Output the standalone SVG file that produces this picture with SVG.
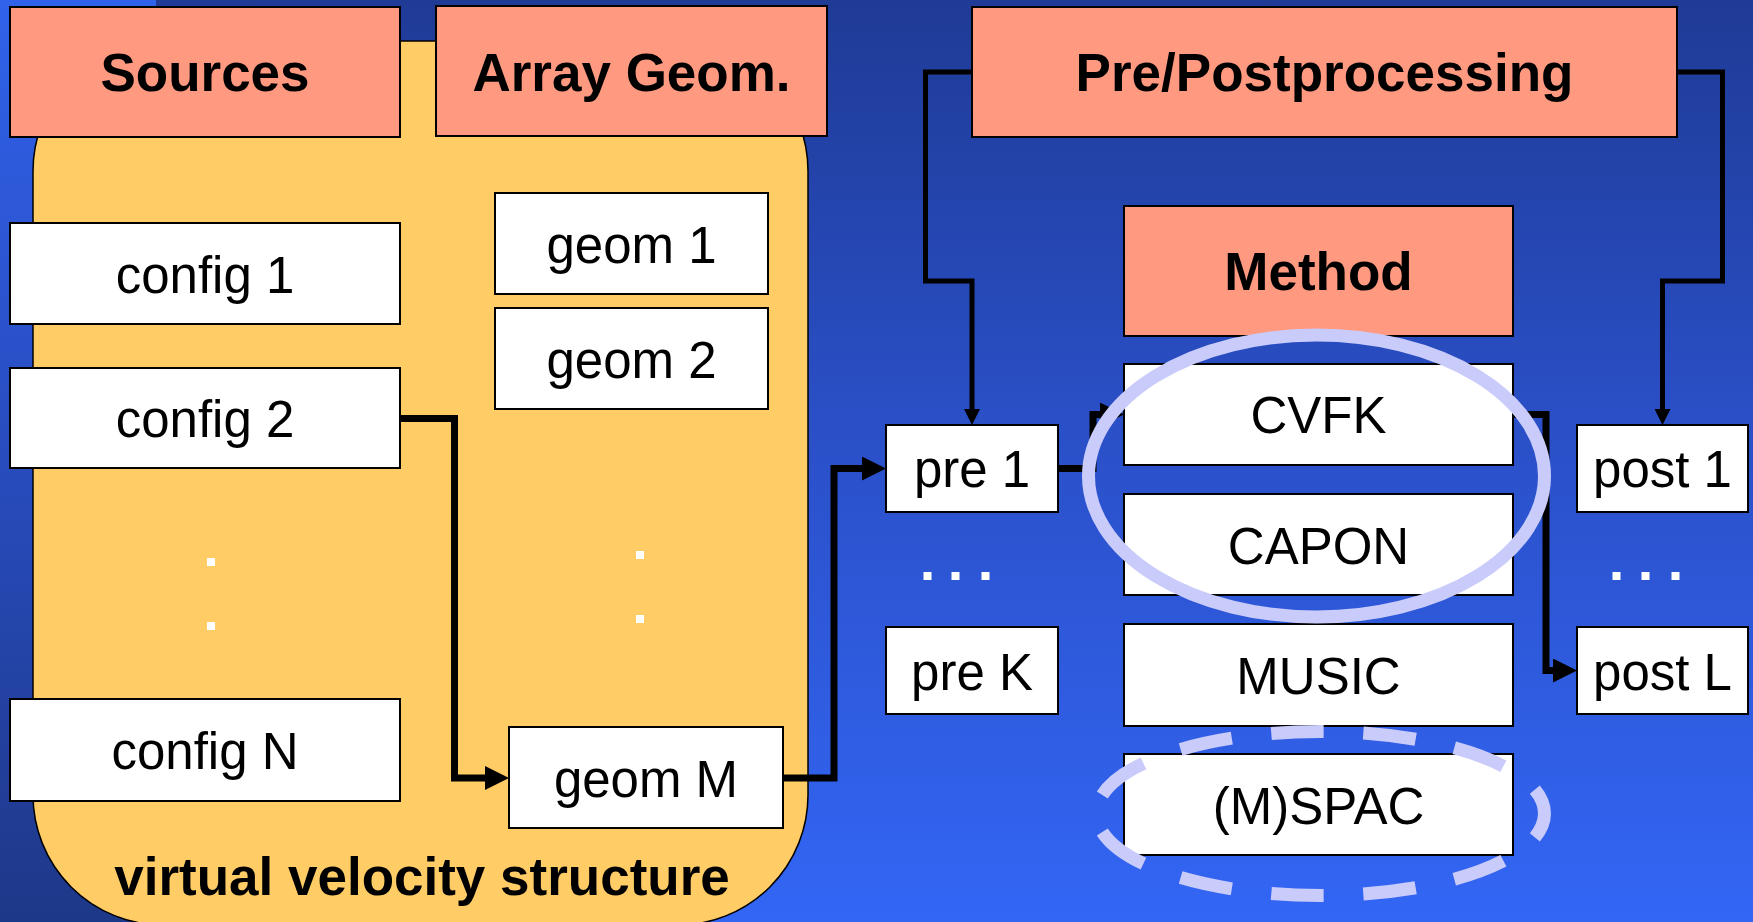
<svg xmlns="http://www.w3.org/2000/svg" width="1753" height="922" viewBox="0 0 1753 922">
<defs>
<linearGradient id="bgMain" x1="0" y1="0" x2="0" y2="1">
<stop offset="0" stop-color="#1F3B96"/>
<stop offset="0.45" stop-color="#2A4FC6"/>
<stop offset="1" stop-color="#3366F5"/>
</linearGradient>
<linearGradient id="bgLeft" x1="0" y1="0" x2="0" y2="1">
<stop offset="0" stop-color="#3062EA"/>
<stop offset="0.4" stop-color="#2A50C8"/>
<stop offset="1" stop-color="#1E3888"/>
</linearGradient>
<marker id="arrowBig" viewBox="0 0 24 24" markerWidth="24" markerHeight="24" markerUnits="userSpaceOnUse" refX="4" refY="12" orient="auto">
<path d="M0,0 L24,12 L0,24 Z" fill="#000"/>
</marker>
<marker id="arrowSmall" viewBox="0 0 16 16" markerWidth="16" markerHeight="16" markerUnits="userSpaceOnUse" refX="3" refY="8" orient="auto">
<path d="M0,0 L16,8 L0,16 Z" fill="#000"/>
</marker>
</defs>
<style>
.hdr rect{fill:#FF9980;stroke:#000;stroke-width:2}
.box rect{fill:#FFFFFF;stroke:#000;stroke-width:2}
.hdr text{font-family:"Liberation Sans",Arial,sans-serif;font-weight:bold;font-size:53px;text-anchor:middle;fill:#000}
.box text{font-family:"Liberation Sans",Arial,sans-serif;font-size:51px;text-anchor:middle;fill:#000}
.dot{fill:#FFFFFF}
.thick{fill:none;stroke:#000;stroke-width:7;stroke-linejoin:miter;marker-end:url(#arrowBig)}
.thin{fill:none;stroke:#000;stroke-width:5;stroke-linejoin:miter;marker-end:url(#arrowSmall)}
.ring{fill:none;stroke:#C9CBFA;stroke-width:13}
</style>
<rect x="0" y="0" width="1753" height="922" fill="url(#bgMain)"/>
<rect x="0" y="0" width="156" height="922" fill="url(#bgLeft)"/>
<g id="structure">
<rect x="33" y="41" width="775" height="884" rx="130" ry="130" fill="#FFCC66" stroke="#000" stroke-width="1.5"/>
<text x="422" y="895" font-family="Liberation Sans, Arial, sans-serif" font-weight="bold" font-size="53" text-anchor="middle" fill="#000">virtual velocity structure</text>
</g>
<g id="connectors">
<path class="thick" d="M400,418.5 H454.5 V778 H489"/>
<path class="thick" d="M783,778 H834 V468.5 H866"/>
<path class="thin" d="M972,72 H925.5 V281 H972 V412"/>
<path class="thin" d="M1677,72 H1722.5 V281 H1662.5 V412"/>
<path class="thick" d="M1058,468.5 H1093 V414.5 H1104"/>
<path class="thick" d="M1513,414.5 H1546 V670.5 H1557"/>
</g>
<g id="sources" class="hdr"><rect x="10" y="7" width="390" height="130"/><text x="205" y="91">Sources</text></g>
<g id="array-geom" class="hdr"><rect x="436" y="6" width="391" height="130"/><text x="631.5" y="91">Array Geom.</text></g>
<g id="prepost" class="hdr"><rect x="972" y="7" width="705" height="130"/><text x="1324.5" y="91">Pre/Postprocessing</text></g>
<g id="method" class="hdr"><rect x="1124" y="206" width="389" height="130"/><text x="1318.5" y="290">Method</text></g>
<g id="config1" class="box"><rect x="10" y="223" width="390" height="101"/><text x="205" y="293">config 1</text></g>
<g id="config2" class="box"><rect x="10" y="368" width="390" height="100"/><text x="205" y="437">config 2</text></g>
<g id="configN" class="box"><rect x="10" y="699" width="390" height="102"/><text x="205" y="769">config N</text></g>
<g id="geom1" class="box"><rect x="495" y="193" width="273" height="101"/><text x="631.5" y="263">geom 1</text></g>
<g id="geom2" class="box"><rect x="495" y="308" width="273" height="101"/><text x="631.5" y="378">geom 2</text></g>
<g id="geomM" class="box"><rect x="509" y="727" width="274" height="101"/><text x="646" y="797">geom M</text></g>
<g id="dots-config"><rect class="dot" x="207" y="558" width="8" height="8"/><rect class="dot" x="207" y="622" width="8" height="8"/></g>
<g id="dots-geom"><rect class="dot" x="636" y="551" width="8" height="8"/><rect class="dot" x="636" y="615" width="8" height="8"/></g>
<g id="pre1" class="box"><rect x="886" y="425" width="172" height="87"/><text x="972" y="487">pre 1</text></g>
<g id="preK" class="box"><rect x="886" y="627" width="172" height="87"/><text x="972" y="689.5">pre K</text></g>
<g id="dots-pre"><rect class="dot" x="923.5" y="572" width="8" height="8"/><rect class="dot" x="951.5" y="572" width="8" height="8"/><rect class="dot" x="981.5" y="572" width="8" height="8"/></g>
<g id="post1" class="box"><rect x="1577" y="425" width="171" height="87"/><text x="1662.5" y="487">post 1</text></g>
<g id="postL" class="box"><rect x="1577" y="627" width="171" height="87"/><text x="1662.5" y="689.5">post L</text></g>
<g id="dots-post"><rect class="dot" x="1612.5" y="572" width="8" height="8"/><rect class="dot" x="1641.5" y="572" width="8" height="8"/><rect class="dot" x="1671.5" y="572" width="8" height="8"/></g>
<g id="cvfk" class="box"><rect x="1124" y="364" width="389" height="101"/><text x="1318.5" y="433">CVFK</text></g>
<g id="capon" class="box"><rect x="1124" y="494" width="389" height="101"/><text x="1318.5" y="563.5">CAPON</text></g>
<g id="music" class="box"><rect x="1124" y="624" width="389" height="102"/><text x="1318.5" y="694">MUSIC</text></g>
<g id="mspac" class="box"><rect x="1124" y="754" width="389" height="101"/><text x="1318.5" y="823.5">(M)SPAC</text></g>
<g id="highlight-solid"><ellipse class="ring" cx="1316.5" cy="476" rx="228" ry="141"/></g>
<g id="highlight-dashed"><ellipse class="ring" cx="1320.5" cy="813.5" rx="224" ry="82" pathLength="11" stroke-dasharray="0.57 0.43" stroke-dashoffset="0.285"/></g>
</svg>
